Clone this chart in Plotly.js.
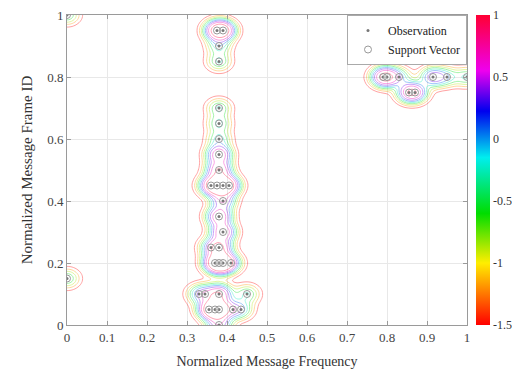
<!DOCTYPE html>
<html>
<head>
<meta charset="utf-8">
<script src="https://cdn.plot.ly/plotly-3.0.1.min.js"></script>
<style>html,body{margin:0;padding:0;background:#fff;}#chart{width:512px;height:378px;}</style>
</head>
<body>
<div id="chart"></div>
<script>
// Observations (normalized message frequency, normalized frame ID) and repetition counts
const obsX = [0.375, 0.39, 0.38, 0.38,
  0.38, 0.38, 0.38, 0.38, 0.38,
  0.36, 0.375, 0.39, 0.405,
  0.39, 0.38, 0.39, 0.36, 0.38,
  0.37, 0.38, 0.39, 0.41,
  0.33, 0.345, 0.38, 0.45,
  0.355, 0.37, 0.38, 0.415, 0.435,
  0.38,
  0.79, 0.80, 0.83, 0.915, 0.95, 1.0, 0.855, 0.87,
  0.0, 0.0];
const obsY = [0.95, 0.95, 0.90, 0.85,
  0.70, 0.65, 0.60, 0.55, 0.50,
  0.45, 0.45, 0.45, 0.45,
  0.40, 0.35, 0.30, 0.25, 0.25,
  0.20, 0.20, 0.20, 0.20,
  0.10, 0.10, 0.10, 0.10,
  0.05, 0.05, 0.05, 0.05, 0.05,
  0.0,
  0.80, 0.80, 0.80, 0.80, 0.80, 0.80, 0.75, 0.75,
  1.0, 0.15];
const obsCount = [3, 3, 1, 1,
  1, 1, 1, 3, 3,
  2, 3, 3, 2,
  2, 3, 3, 1, 3,
  2, 3, 3, 1,
  1, 1, 3, 1,
  2, 3, 3, 1, 1,
  2,
  2, 2, 1, 2, 1, 1, 2, 2,
  1, 1];
// Support vectors (all observations are support vectors here)
const svX = obsX.slice();
const svY = obsY.slice();

const cbTicks = [-1.5, -1, -0.5, 0, 0.5, 1];
const cbTickText = ['-1.5', '-1', '-0.5', '0', '0.5', '1'];
const xTicks = [0, 0.1, 0.2, 0.3, 0.4, 0.5, 0.6, 0.7, 0.8, 0.9, 1];
const yTicks = [0, 0.2, 0.4, 0.6, 0.8, 1];

const colorscale = [[0,'#ff0000'],[0.2,'#ffee00'],[0.36,'#00dd00'],[0.54,'#00eeee'],[0.69,'#0000ee'],[0.82,'#ee00ee'],[1,'#ff0033']];

// Score surface from a Gaussian-kernel model of the observations
const sigma = 0.02;
const gx = [], gy = [];
for (let i = 0; i <= 200; i++) { gx.push(i / 200); gy.push(i / 200); }
const z = gy.map(yv => gx.map(xv => {
  let s = 0;
  for (let k = 0; k < obsX.length; k++) {
    const dx = xv - obsX[k], dy = yv - obsY[k];
    s += obsCount[k] * Math.exp(-(dx * dx + dy * dy) / (2 * sigma * sigma));
  }
  return -1.5 + 2.5 * (1 - Math.exp(-0.7 * s));
}));

const serif = 'Liberation Serif, Times New Roman, serif';

const traces = [
  {
    type: 'contour', x: gx, y: gy, z: z,
    zmin: -1.5, zmax: 1, zauto: false,
    colorscale: colorscale, showscale: false,
    contours: {coloring: 'lines', start: -1.25, end: 0.75, size: 0.25},
    line: {width: 0.8, smoothing: 1},
    opacity: 0.45,
    showlegend: false, hoverinfo: 'skip'
  },
  {
    type: 'scatter', mode: 'markers', x: obsX, y: obsY,
    name: 'Observation',
    marker: {symbol: 'circle', size: 3, color: '#777'}
  },
  {
    type: 'scatter', mode: 'markers', x: svX, y: svY,
    name: 'Support Vector',
    marker: {symbol: 'circle-open', size: 7, color: '#999', line: {width: 1}}
  },
  {
    type: 'scatter', mode: 'markers', x: [null], y: [null],
    showlegend: false, hoverinfo: 'skip',
    marker: {
      color: [0], cmin: -1.5, cmax: 1, colorscale: colorscale, showscale: true,
      colorbar: {
        x: 1.0225, xanchor: 'left', xref: 'paper', xpad: 0, ypad: 0,
        y: 0.5, yanchor: 'middle', len: 1, lenmode: 'fraction',
        thickness: 14, outlinewidth: 0, ticks: '', ticklabelpad: 2, tickmode: 'array',
        tickvals: cbTicks, ticktext: cbTickText,
        tickfont: {family: serif, size: 12, color: '#333'}
      }
    }
  }
];

const axisCommon = {
  range: [0, 1], showgrid: true, gridcolor: '#e8e8e8', gridwidth: 1,
  zeroline: false, showline: true, linecolor: '#9a9a9a', linewidth: 1,
  mirror: 'ticks', ticks: 'inside', ticklen: 4, tickcolor: '#9a9a9a',
  tickfont: {family: serif, size: 13, color: '#444'}
};

const layout = {
  width: 512, height: 378,
  margin: {l: 67, r: 45, t: 15, b: 53, autoexpand: false},
  paper_bgcolor: '#fff', plot_bgcolor: '#fff',
  xaxis: Object.assign({}, axisCommon, {
    tickmode: 'array', tickvals: xTicks,
    title: {text: 'Normalized Message Frequency', font: {family: serif, size: 14, color: '#333'}, standoff: 12}
  }),
  yaxis: Object.assign({}, axisCommon, {
    tickmode: 'array', tickvals: yTicks,
    title: {text: 'Normalized Message Frame ID', font: {family: serif, size: 15, color: '#333'}, standoff: 10}
  }),
  legend: {
    x: 1, xanchor: 'right', y: 1, yanchor: 'top',
    bgcolor: '#fff', bordercolor: '#aaa', borderwidth: 1,
    font: {family: serif, size: 12, color: '#222'},
    itemwidth: 30, tracegroupgap: 0
  },
  showlegend: true
};

Plotly.newPlot('chart', traces, layout, {staticPlot: true, displayModeBar: false});
</script>
</body>
</html>
